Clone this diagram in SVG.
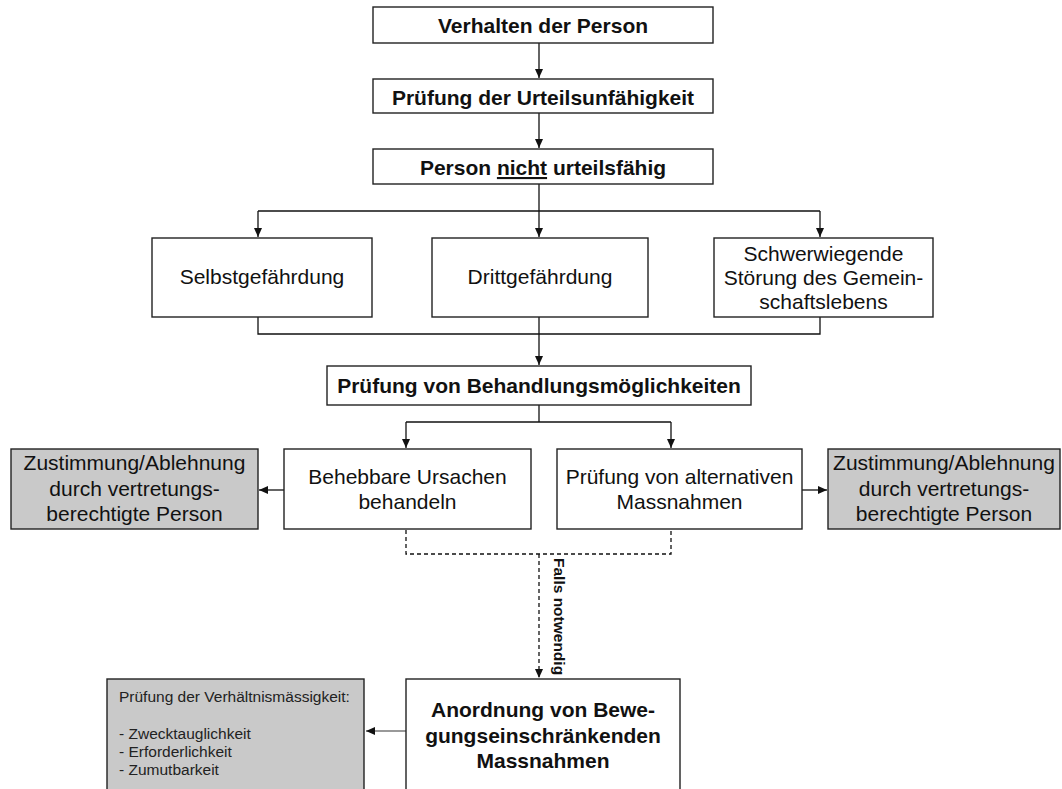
<svg xmlns="http://www.w3.org/2000/svg" width="1062" height="789" viewBox="0 0 1062 789">
<style>
.box{fill:#fff;stroke:#222;stroke-width:1.4}
.gray{fill:#c9c9c9;stroke:#222;stroke-width:1.4}
.t{font-family:"Liberation Sans",Arial,sans-serif;font-size:21px;fill:#111;text-anchor:middle}
.b{font-weight:bold}
.s{font-family:"Liberation Sans",Arial,sans-serif;font-size:15.5px;fill:#222}
.ln{fill:none;stroke:#111;stroke-width:1.3}
.dash{fill:none;stroke:#111;stroke-width:1.3;stroke-dasharray:4 3}
.gl{fill:none;stroke:#999;stroke-width:2}
</style>
<defs>
<marker id="ah" markerWidth="10" markerHeight="8" refX="9" refY="4" orient="auto" markerUnits="userSpaceOnUse">
<path d="M0,0 L9,4 L0,8 z" fill="#111"/>
</marker>
</defs>
<g id="connectors">
<path class="ln" d="M539,43 V78" marker-end="url(#ah)"/>
<path class="ln" d="M539,113 V148" marker-end="url(#ah)"/>
<path class="ln" d="M539,184 V211"/>
<path class="ln" d="M258,211 H820"/>
<path class="ln" d="M258,211 V237" marker-end="url(#ah)"/>
<path class="ln" d="M539,211 V237" marker-end="url(#ah)"/>
<path class="ln" d="M820,211 V237" marker-end="url(#ah)"/>
<path class="ln" d="M258,317 V334 H820 V317"/>
<path class="ln" d="M539,317 V365" marker-end="url(#ah)"/>
<path class="ln" d="M539,405 V422"/>
<path class="ln" d="M406,422 H671"/>
<path class="ln" d="M406,422 V448" marker-end="url(#ah)"/>
<path class="ln" d="M671,422 V448" marker-end="url(#ah)"/>
<path class="ln" d="M284,490 H259" marker-end="url(#ah)"/>
<path class="ln" d="M802,490 H827" marker-end="url(#ah)"/>
<path class="dash" d="M406,530 V554 H671 V530"/>
<path class="dash" d="M539,554 V678" marker-end="url(#ah)"/>
<path class="gl" d="M406,731 H366" marker-end="url(#ah)"/>
<text class="t b" style="font-size:15.5px;text-anchor:start" transform="translate(554,558) rotate(90)">Falls notwendig</text>
</g>
<g id="n1"><rect class="box" x="373" y="7" width="340" height="36"/><text class="t b" x="543" y="33">Verhalten der Person</text></g>
<g id="n2"><rect class="box" x="373" y="79" width="340" height="34"/><text class="t b" x="543" y="105">Prüfung der Urteilsunfähigkeit</text></g>
<g id="n3"><rect class="box" x="373" y="149" width="340" height="35"/><text class="t b" x="543" y="175">Person <tspan text-decoration="underline">nicht</tspan> urteilsfähig</text></g>
<g id="n4"><rect class="box" x="152" y="238" width="220" height="79"/><text class="t" x="262" y="284">Selbstgefährdung</text></g>
<g id="n5"><rect class="box" x="432" y="238" width="216" height="79"/><text class="t" x="540" y="284">Drittgefährdung</text></g>
<g id="n6"><rect class="box" x="714" y="238" width="219" height="79"/><text class="t" x="823.5" y="261">Schwerwiegende</text><text class="t" x="823.5" y="285">Störung des Gemein-</text><text class="t" x="823.5" y="309">schaftslebens</text></g>
<g id="n7"><rect class="box" x="327" y="366" width="424" height="39"/><text class="t b" x="539" y="393">Prüfung von Behandlungsmöglichkeiten</text></g>
<g id="n8"><rect class="box" x="284" y="449" width="247" height="80"/><text class="t" x="407.5" y="484">Behebbare Ursachen</text><text class="t" x="407.5" y="509">behandeln</text></g>
<g id="n9"><rect class="box" x="557" y="449" width="245" height="80"/><text class="t" x="679.5" y="484">Prüfung von alternativen</text><text class="t" x="679.5" y="509">Massnahmen</text></g>
<g id="n10"><rect class="gray" x="11" y="449" width="247" height="80"/><text class="t" x="134.5" y="470">Zustimmung/Ablehnung</text><text class="t" x="134.5" y="496">durch vertretungs-</text><text class="t" x="134.5" y="521">berechtigte Person</text></g>
<g id="n11"><rect class="gray" x="828" y="449" width="232" height="80"/><text class="t" x="944" y="470">Zustimmung/Ablehnung</text><text class="t" x="944" y="496">durch vertretungs-</text><text class="t" x="944" y="521">berechtigte Person</text></g>
<g id="n12"><rect class="box" x="406" y="679" width="274" height="130"/><text class="t b" x="543" y="717">Anordnung von Bewe-</text><text class="t b" x="543" y="743">gungseinschränkenden</text><text class="t b" x="543" y="768">Massnahmen</text></g>
<g id="n13"><rect class="gray" x="107" y="679" width="257" height="130"/><text class="s" x="119" y="702">Prüfung der Verhältnismässigkeit:</text><text class="s" x="119" y="739">- Zwecktauglichkeit</text><text class="s" x="119" y="757">- Erforderlichkeit</text><text class="s" x="119" y="775">- Zumutbarkeit</text></g>
</svg>
